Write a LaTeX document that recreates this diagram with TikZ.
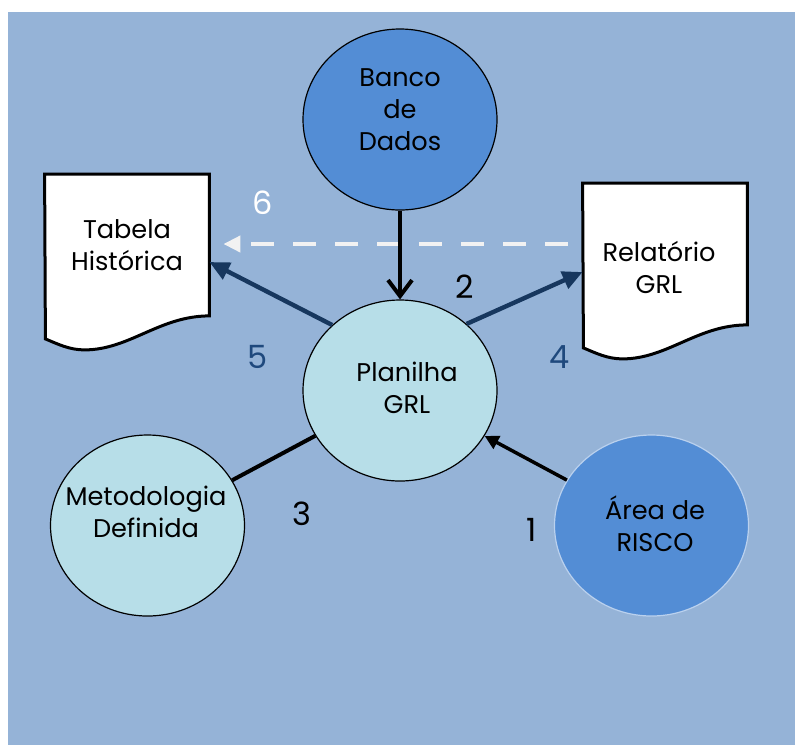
\documentclass[tikz,border=0pt]{standalone}
\usepackage{fontspec}
\setmainfont{Poppins}
\usetikzlibrary{shapes.geometric,arrows.meta}
\definecolor{bgblue}{HTML}{95B3D7}
\definecolor{midblue}{HTML}{538DD5}
\definecolor{lightcyan}{HTML}{B7DEE8}
\definecolor{navy}{HTML}{17375E}
\definecolor{numblue}{HTML}{1F497D}
\definecolor{dashwhite}{HTML}{F2F2F2}

\begin{document}
\begin{tikzpicture}[x=0.5pt, y=-0.5pt,
        ball/.style={ellipse, draw=black, line width=0.6pt, minimum width=97pt, minimum height=90.5pt, inner sep=0pt},
        doc/.style={rectangle, minimum width=82pt, minimum height=70.5pt, inner sep=0pt},
        docframe/.style={draw=black, fill=white, line width=1.5pt},
        txt/.style={align=center, font=\fontsize{12.8}{16}\selectfont},
        num/.style={font=\fontsize{16}{18}\selectfont},
        navyarrow/.style={draw=navy, line width=2.2pt, -{Triangle[length=10pt, width=9pt]}}]
        % Background
        \useasboundingbox (0,0) rectangle (795,745);
        \fill[bgblue] (8,12) rectangle (795,745);

        % Ellipses
        \node[ball, fill=midblue] (BD) at (400,119.5) {};
        \node[ball, fill=lightcyan] (PG) at (400,390.5) {};
        \node[ball, fill=lightcyan] (MD) at (147.5,525.5) {};
        \node[ball, fill=midblue, draw=white!60!midblue] (AR) at (651.5,525.5) {};

        % Documents
        \node[doc] (TH) at (127,245) {};
        \node[doc] (RG) at (665,254) {};
        \foreach \d in {TH,RG}
        \draw[docframe] (\d.north west) -- (\d.north east) -- (\d.south east)
            .. controls +(-50,0) and +(45,0) .. ++(-125,34)
            .. controls +(-15,0) and +(12,5) .. ++(-39,-11) -- cycle;

        % Texts
        \node[txt] (BD-t) at (400,110) {Banco\\de\\Dados};
        \node[txt] (PG-t) at (407,388) {Planilha\\GRL};
        \node[txt] (MD-t) at (146,512) {Metodologia\\Definida};
        \node[txt] (AR-t) at (655,524) {Área de\\RISCO};
        \node[txt] (TH-t) at (127,245) {Tabela\\Histórica};
        \node[txt] (RG-t) at (659,267) {Relatório\\GRL};

        % Connections
        \draw[dashwhite, line width=2pt, dash pattern=on 11.5pt off 9.5pt, shorten <=7.5pt, shorten >=7pt,
            -{Triangle[length=8.5pt, width=8pt]}] ([yshift=5pt]RG.west) -- ([yshift=0.5pt]TH.east);
        \draw[line width=2pt, -{Straight Barb[length=8pt, width=12pt]}] (BD) -- (PG);
        \draw[navyarrow] (PG.136) -- ([yshift=-8.5pt]TH.east);
        \draw[navyarrow] (PG.45) -- ([yshift=-9pt]RG.west);
        \draw[line width=2pt] (MD) -- (PG);
        \draw[line width=1.75pt, -{Triangle[length=7pt, width=7pt]}] (AR) -- (PG);

        % Numbers
        \foreach \n/\x/\y/\c in {6/263/203/white, 2/465/287/black, 5/258/357/numblue,
                4/560/357/numblue, 3/302/514/black, 1/532/530/black}
        \node[num, text=\c] (N-\n) at (\x,\y) {\n};
    \end{tikzpicture}
\end{document}
